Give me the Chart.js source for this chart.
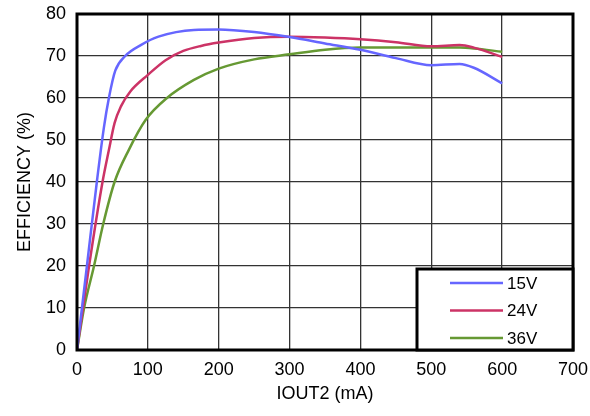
<!DOCTYPE html>
<html>
<head>
<meta charset="utf-8">
<script src="https://cdn.jsdelivr.net/npm/chart.js@4.4.0/dist/chart.umd.min.js"></script>
<style>
  html, body { margin: 0; padding: 0; background: #fff; }
  #wrap { width: 590px; height: 416px; }
</style>
</head>
<body>
<div id="wrap"><canvas id="effChart" width="590" height="416"></canvas></div>
<script>
let seriesNames = ['15V', '24V', '36V'];
let seriesColors = ['#6666ff', '#cc3366', '#669933'];

// IOUT2 (mA), efficiency (%)
let x15 = [0, 14, 28, 38, 45, 54, 68, 90, 115, 165, 200, 250, 300, 350, 400, 450, 500, 540, 560, 600];
let y15 = [0, 20, 40, 53, 60, 66.5, 70, 72.6, 74.6, 76.2, 76.3, 75.7, 74.5, 73, 71.5, 69.5, 67.8, 68.1, 67.2, 63.5];

let x24 = [0, 17, 36, 45, 53, 62, 75, 100, 125, 150, 175, 200, 250, 300, 350, 400, 450, 500, 540, 560, 600];
let y24 = [0, 20, 40, 47.6, 54, 58, 61.5, 65.5, 69, 71.2, 72.4, 73.2, 74.3, 74.6, 74.4, 74, 73.3, 72.3, 72.6, 72, 69.8];

let x36 = [0, 10, 24, 37, 53, 73, 97, 127, 165, 200, 250, 300, 350, 400, 450, 500, 540, 560, 600];
let y36 = [0, 10, 20, 30, 40, 47.6, 54.8, 60, 64.3, 67, 69.2, 70.4, 71.5, 72, 72, 72, 72, 71.8, 71];

let xTicks = [0, 100, 200, 300, 400, 500, 600, 700];
let yTicks = [0, 10, 20, 30, 40, 50, 60, 70, 80];

function pts(xs, ys) {
    return xs.map(function(x, i) { return {x: x, y: ys[i]}; });
}

let allX = [x15, x24, x36];
let allY = [y15, y24, y36];

let datasets = seriesNames.map(function(name, i) {
    return {
        label: name,
        data: pts(allX[i], allY[i]),
        borderColor: seriesColors[i],
        backgroundColor: seriesColors[i],
        borderWidth: 2.5,
        pointRadius: 0,
        cubicInterpolationMode: 'monotone',
        fill: false
    };
});

// frame around the plot and the boxed legend in the lower right corner
let frameAndLegend = {
    id: 'frameAndLegend',
    afterDraw: function(chart) {
        let ctx = chart.ctx;
        let a = chart.chartArea;
        ctx.save();
        ctx.strokeStyle = '#000';
        ctx.lineWidth = 3;
        ctx.strokeRect(a.left, a.top, a.right - a.left, a.bottom - a.top);

        let boxW = 156, boxH = 81;
        let bx = a.right - boxW, by = a.bottom - boxH;
        ctx.fillStyle = '#fff';
        ctx.fillRect(bx, by, boxW, boxH);
        ctx.strokeRect(bx, by, boxW, boxH);

        ctx.font = '17px "Liberation Sans", Arial, sans-serif';
        ctx.textBaseline = 'middle';
        ctx.textAlign = 'left';
        chart.data.datasets.forEach(function(ds, i) {
            let ly = by + 14 + i * 27.5;
            ctx.strokeStyle = ds.borderColor;
            ctx.lineWidth = 2.5;
            ctx.beginPath();
            ctx.moveTo(bx + 33, ly);
            ctx.lineTo(bx + 86, ly);
            ctx.stroke();
            ctx.fillStyle = '#000';
            ctx.fillText(ds.label, bx + 90, ly + 1);
        });
        ctx.restore();
    }
};

let font = { family: '"Liberation Sans", Arial, sans-serif', size: 18 };

let config = {
    type: 'line',
    data: { datasets: datasets },
    options: {
        responsive: false,
        animation: false,
        layout: { padding: { top: 14, right: 17, left: 0, bottom: 0 } },
        plugins: {
            legend: { display: false },
            tooltip: { enabled: false }
        },
        scales: {
            x: {
                type: 'linear',
                min: 0,
                max: 700,
                afterBuildTicks: function(s) { s.ticks = xTicks.map(function(v) { return {value: v}; }); },
                afterFit: function(s) { s.height = 66; s.paddingLeft = 0; s.paddingRight = 0; },
                grid: { color: '#333', lineWidth: 1.3, drawTicks: false },
                border: { display: false },
                ticks: { color: '#000', font: font, padding: 9, maxRotation: 0 },
                title: { display: true, text: 'IOUT2 (mA)', color: '#000', font: font, padding: { top: 0, bottom: 11 } }
            },
            y: {
                min: 0,
                max: 80,
                afterBuildTicks: function(s) { s.ticks = yTicks.map(function(v) { return {value: v}; }); },
                afterFit: function(s) { s.width = 77; s.paddingTop = 0; s.paddingBottom = 0; },
                grid: { color: '#333', lineWidth: 1.3, drawTicks: false },
                border: { display: false },
                ticks: { color: '#000', font: font, padding: 11 },
                title: { display: true, text: 'EFFICIENCY (%)', color: '#000', font: font, padding: { top: 14, bottom: 0 } }
            }
        }
    },
    plugins: [frameAndLegend]
};

window.onload = function() {
    let ctx = document.getElementById('effChart').getContext('2d');
    window.effChart = new Chart(ctx, config);
};
</script>
</body>
</html>
